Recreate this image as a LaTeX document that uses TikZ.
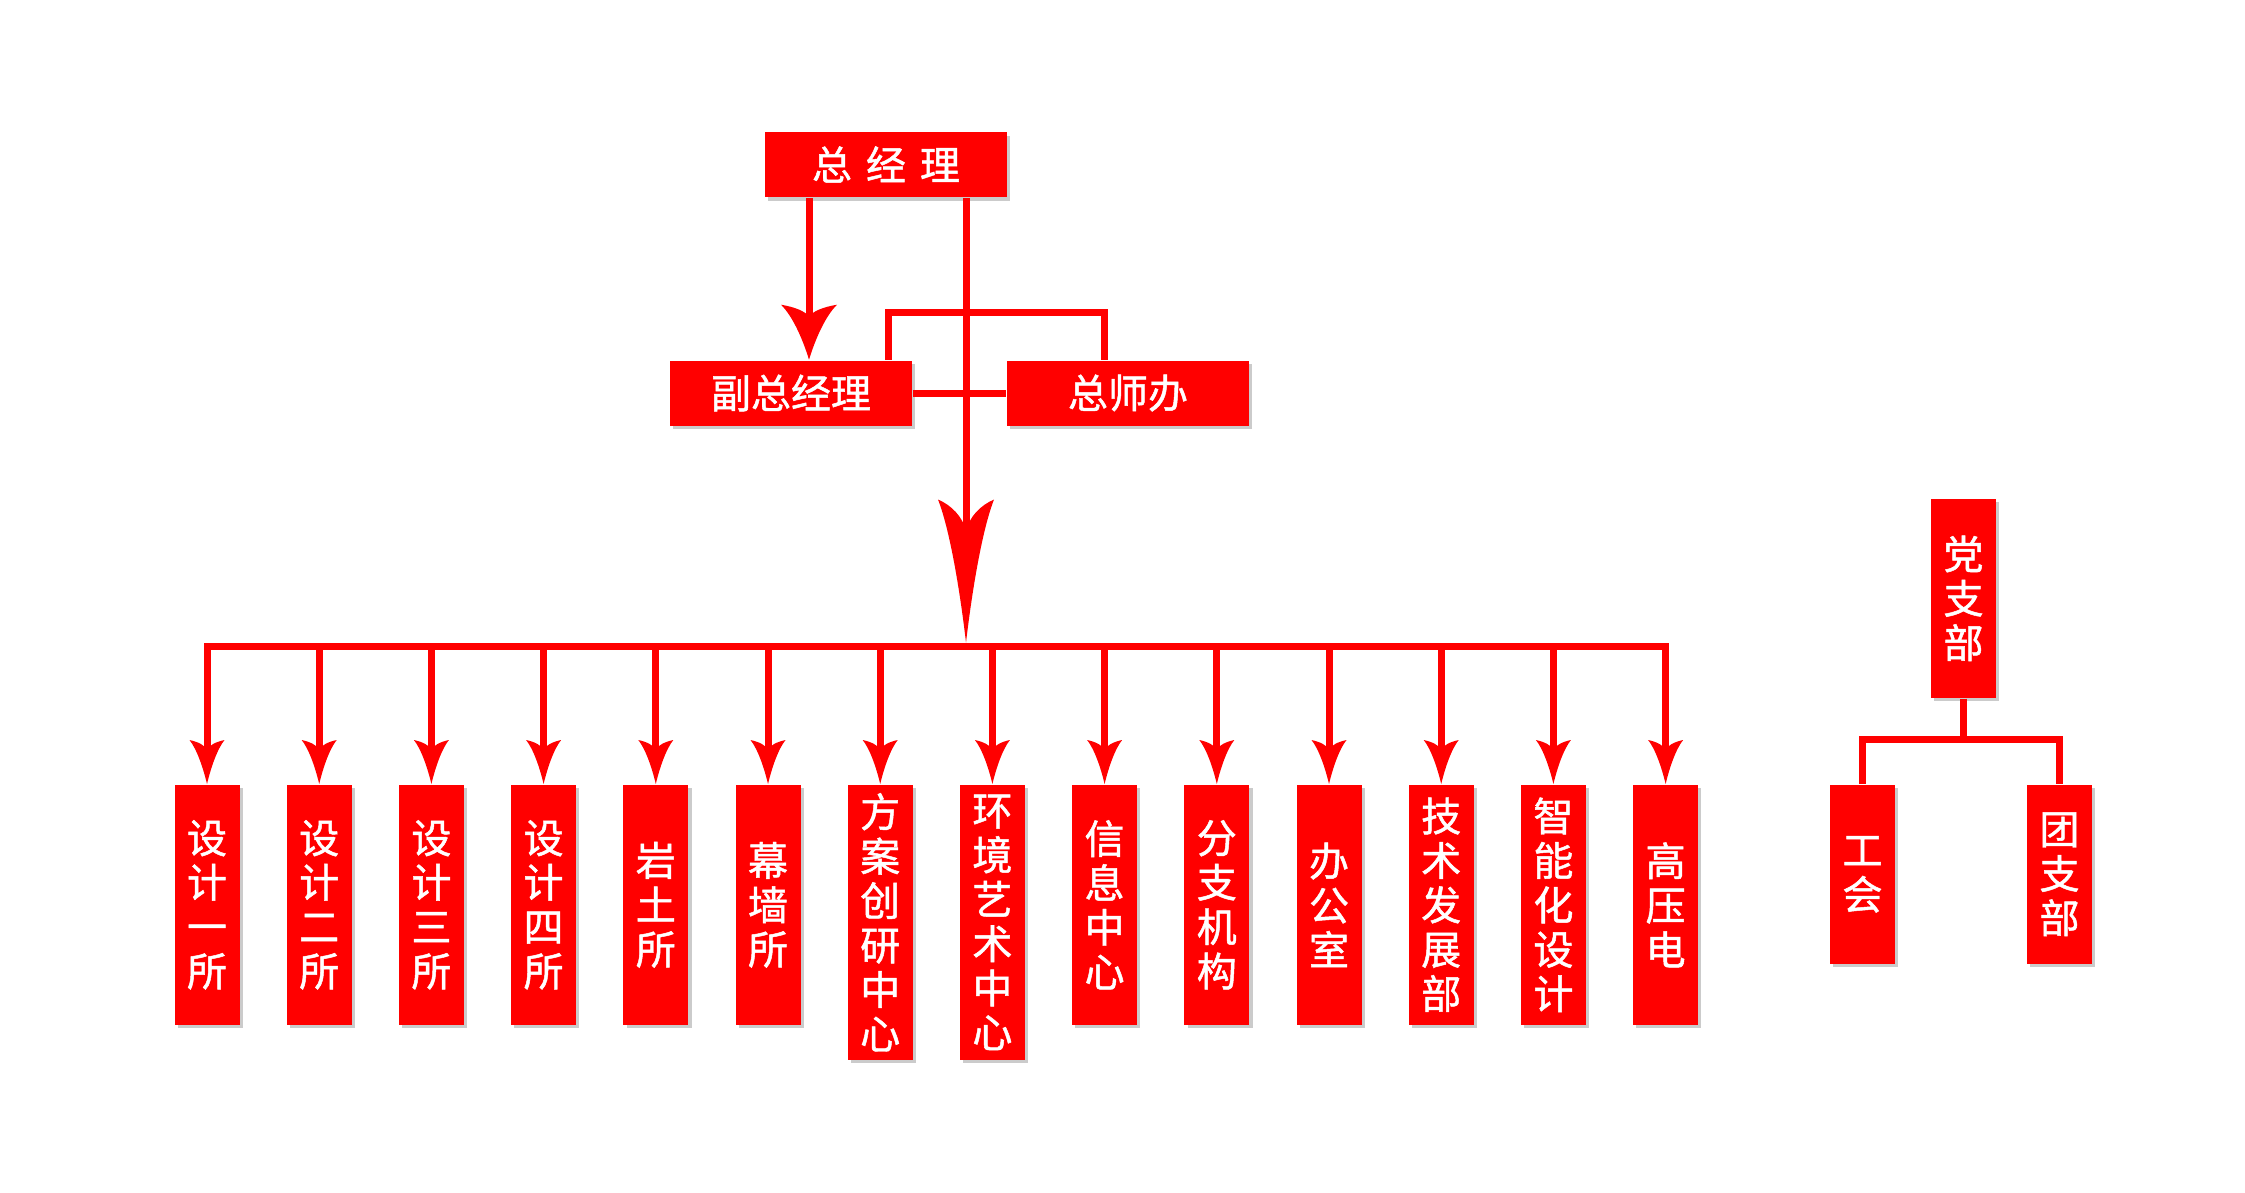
\documentclass[tikz,border=0pt]{standalone}
\usepackage{fontspec}
\newfontfamily\cjk[FakeBold=1.2]{Noto Sans CJK SC}
\usetikzlibrary{arrows.meta,shadows,calc}
\definecolor{rd}{RGB}{255,0,0}
\newdimen\bbL \newdimen\bbW
\pgfdeclarearrow{
  name = Barb,
  parameters = {\the\pgfarrowlength,\the\pgfarrowwidth},
  setup code = {
    \pgfarrowssettipend{0pt}
    \pgfarrowssetlineend{-.5\pgfarrowlength}
    \pgfarrowssetbackend{-\pgfarrowlength}
    \pgfarrowssavethe\pgfarrowlength
    \pgfarrowssavethe\pgfarrowwidth
  },
  drawing code = {
    \bbL=\pgfarrowlength \bbW=\pgfarrowwidth
    \pgfpathmoveto{\pgfqpoint{0pt}{0pt}}
    \pgfpathcurveto{\pgfqpoint{-.4\bbL}{.12\bbW}}{\pgfqpoint{-.8\bbL}{.3\bbW}}{\pgfqpoint{-\bbL}{.5\bbW}}
    \pgfpathcurveto{\pgfqpoint{-.96\bbL}{.26\bbW}}{\pgfqpoint{-.88\bbL}{.06\bbW}}{\pgfqpoint{-.78\bbL}{0pt}}
    \pgfpathcurveto{\pgfqpoint{-.88\bbL}{-.06\bbW}}{\pgfqpoint{-.96\bbL}{-.26\bbW}}{\pgfqpoint{-\bbL}{-.5\bbW}}
    \pgfpathcurveto{\pgfqpoint{-.8\bbL}{-.3\bbW}}{\pgfqpoint{-.4\bbL}{-.12\bbW}}{\pgfqpoint{0pt}{0pt}}
    \pgfpathclose
    \pgfusepathqfill
  },
  defaults = {length=11pt, width=8.75pt}
}
\tikzset{
  box/.style={fill=rd, text=white, inner sep=0pt, align=center,
    font=\cjk\fontsize{10}{11.1}\selectfont,
    drop shadow={shadow xshift=0.8pt, shadow yshift=-0.9pt, fill=black!45, opacity=0.45}},
  hbox/.style={box, minimum width=60.5pt, minimum height=16.25pt},
  vbox/.style={box, anchor=north, minimum width=16.25pt, minimum height=60pt},
  tallbox/.style={vbox, minimum height=68.75pt},
  conn/.style={color=rd, line width=1.75pt, line join=miter},
  small/.style={conn, -{Barb[length=11pt,width=8.75pt]}},
}
\begin{document}
\begin{tikzpicture}[x=0.25pt, y=-0.25pt]
\useasboundingbox (0,0) rectangle (2245,1192);
% top level
\node[hbox] (gm) at (886,164.5) {总\hspace{3.5pt}经\hspace{3.5pt}理};
\node[hbox] (fz) at (791,393) {副总经理};
\node[hbox] (zs) at (1128,393) {总师办};
% bottom row
\node[vbox] (b1) at (207,784) {设\\计\\一\\所};
\node[vbox] (b2) at (319.2,784) {设\\计\\二\\所};
\node[vbox] (b3) at (431.4,784) {设\\计\\三\\所};
\node[vbox] (b4) at (543.6,784) {设\\计\\四\\所};
\node[vbox] (b5) at (655.8,784) {岩\\土\\所};
\node[vbox] (b6) at (768,784) {幕\\墙\\所};
\node[tallbox] (b7) at (880.2,784) {方\\案\\创\\研\\中\\心};
\node[tallbox] (b8) at (992.4,784) {环\\境\\艺\\术\\中\\心};
\node[vbox] (b9) at (1104.6,784) {信\\息\\中\\心};
\node[vbox] (b10) at (1216.8,784) {分\\支\\机\\构};
\node[vbox] (b11) at (1329,784) {办\\公\\室};
\node[vbox] (b12) at (1441.2,784) {技\\术\\发\\展\\部};
\node[vbox] (b13) at (1553.4,784) {智\\能\\化\\设\\计};
\node[vbox] (b14) at (1665.6,784) {高\\压\\电};
% right group
\node[vbox, minimum height=49.75pt] (dzb) at (1963.5,498) {党\\支\\部};
\node[vbox, minimum height=44.75pt] (gh) at (1862.5,784) {工\\会};
\node[vbox, minimum height=44.75pt] (tzb) at (2059.5,784) {团\\支\\部};
% coordinates
\coordinate (lv) at (809,0);
\coordinate (mv) at (966,0);
\coordinate (bl) at (888,312.5);
\coordinate (br) at (1104,312.5);
\coordinate (bus) at (0,646);
\coordinate (bt) at (966,642.5);
\coordinate (rby) at (0,739.5);
% connectors top
\draw[conn] (fz.north -| bl) -- (bl) -- (br) -- (zs.north -| br);
\draw[conn] (fz.east) -- (zs.west);
\draw[conn, -{Barb[length=13.75pt,width=14pt]}] (gm.south -| lv) -- (fz.north -| lv);
\draw[conn, -{Barb[length=35.75pt,width=14pt]}] (gm.south -| mv) -- (bt);
% bus
\draw[conn, line cap=rect] (b1.north |- bus) -- (b14.north |- bus);
\foreach \i in {1,...,14}{
  \draw[small] (b\i.north |- bus) -- (b\i.north);
}
% right group connectors
\draw[conn] (dzb.south) -- (dzb.south |- rby);
\draw[conn] (gh.north) -- (gh.north |- rby) -- (tzb.north |- rby) -- (tzb.north);
\end{tikzpicture}
\end{document}
